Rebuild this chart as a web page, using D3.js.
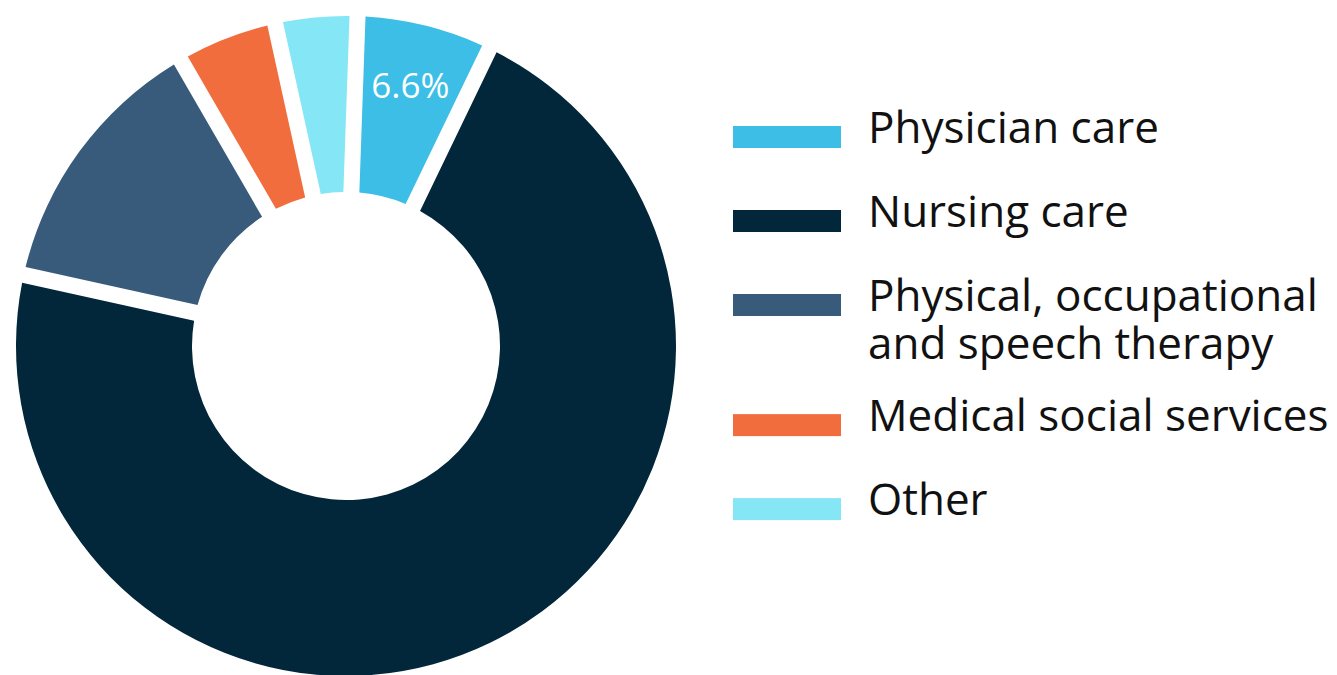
<html>
<head>
  <meta charset="utf-8">
  <script src="https://d3js.org/d3.v7.min.js"></script>
  <style>
    body { margin: 0; background: white; }
    text { font-family: "Open Sans", "Noto Sans", sans-serif; }
  </style>
  <script>
    // share of home health visits by service type (%)
    var categories = [ "Physician care", "Nursing care",
                       "Physical, occupational and speech therapy",
                       "Medical social services", "Other" ];
    var values = [ 6.6, 71.3, 13.2, 4.9, 4.0 ];
    var colors = [ "#3cbee6", "#02263a", "#385b7b", "#f26d3d", "#85e6f5" ];
    // legend text, split where the reference breaks lines
    var legendLines = [ ["Physician care"], ["Nursing care"],
                        ["Physical, occupational", "and speech therapy"],
                        ["Medical social services"], ["Other"] ];
    var labelled = [ "6.6%", "", "", "", "" ];

    function makeChart() {
      var svg = d3.select( "#chart" );
      var cx = 346, cy = 346, rOut = 330, rIn = 154;
      var offset = 2 * Math.PI / 180;

      var pie = d3.pie().sort( null ).value( d => d.v )
          .startAngle( offset ).endAngle( 2*Math.PI + offset );
      var arc = d3.arc().innerRadius( rIn ).outerRadius( rOut )
          .padRadius( rOut ).padAngle( 16/rOut );
      var labelArc = d3.arc().innerRadius( 268 ).outerRadius( 268 );

      var data = values.map( (v,i) => ({ v: v, c: colors[i], t: labelled[i] }) );
      var g = svg.append( "g" ).attr( "transform", "translate(" + cx + "," + cy + ")" );

      g.selectAll( "path" ).data( pie( data ) ).enter().append( "path" )
          .attr( "d", arc ).attr( "fill", d => d.data.c );

      g.selectAll( "text" ).data( pie( data ).filter( d => d.data.t ) ).enter()
          .append( "text" )
          .attr( "transform", d => "translate(" + labelArc.centroid( d ) + ")" )
          .attr( "text-anchor", "middle" ).attr( "dy", "0.36em" )
          .attr( "fill", "white" ).attr( "font-size", 35 )
          .text( d => d.data.t );

      // legend
      var y = d3.scaleLinear().domain( [0, 1] ).range( [126, 210] );
      var top = 0;
      var rows = legendLines.map( (lines, i) => {
        var r = { i: i, lines: lines, pos: top };
        top += 1 + (lines.length - 1) * 0.43;
        return r;
      });

      var lg = svg.append( "g" ).selectAll( "g" ).data( rows ).enter().append( "g" )
          .attr( "transform", d => "translate(733," + y( d.pos ) + ")" );
      lg.append( "rect" ).attr( "width", 108 ).attr( "height", 22 )
          .attr( "fill", d => colors[d.i] );
      lg.append( "text" ).attr( "x", 135 ).attr( "y", 17 )
          .attr( "font-size", 44 ).attr( "fill", "#111" )
          .selectAll( "tspan" ).data( d => d.lines ).enter().append( "tspan" )
          .attr( "x", 135 ).attr( "dy", (d,i) => i ? 48 : 0 )
          .text( d => d );
    }
  </script>
</head>

<body onload="makeChart()">
  <svg id="chart" width="1337" height="675"></svg>
</body>
</html>
